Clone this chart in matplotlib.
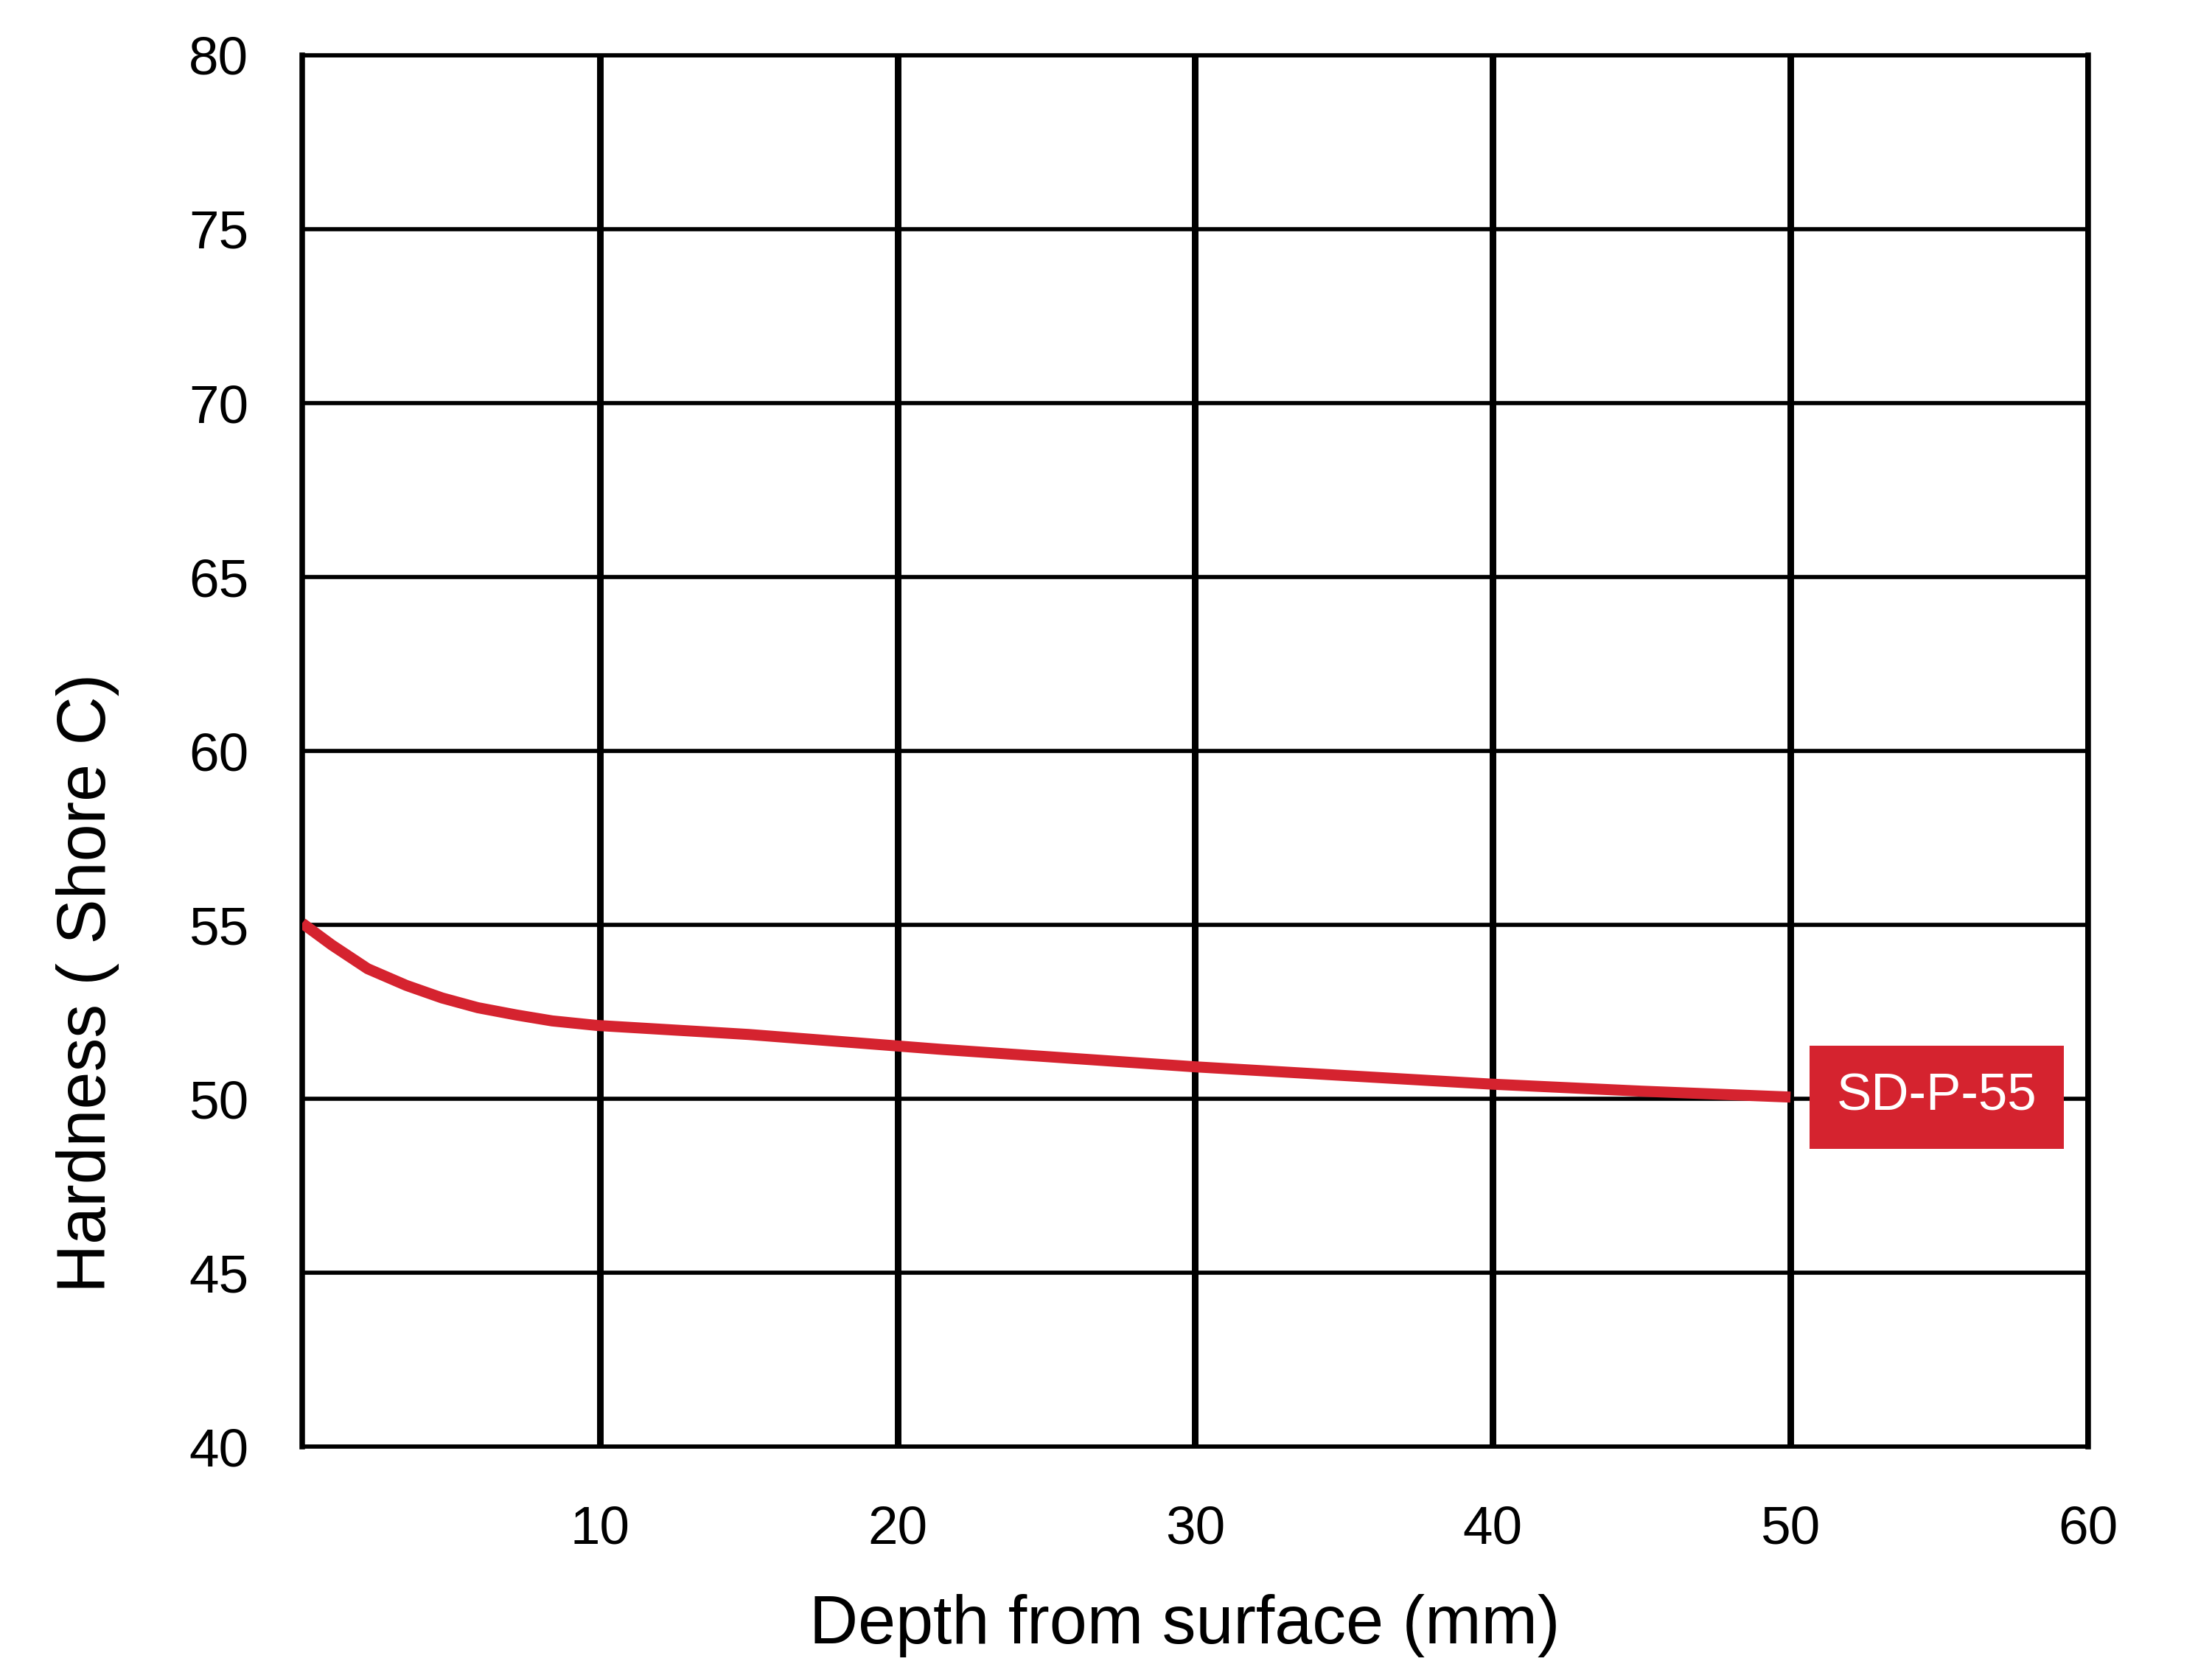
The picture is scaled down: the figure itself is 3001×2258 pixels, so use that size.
import matplotlib
matplotlib.use("Agg")
import matplotlib.pyplot as plt

plt.rcParams['font.family'] = ['Liberation Sans', 'DejaVu Sans']

# hardness profile
depth = [0, 1.0, 2.2, 3.5, 4.7, 5.9, 7.2, 8.4, 9.9, 15, 21.5, 30, 40, 45, 50]
hardness = [55.05, 54.42, 53.74, 53.26, 52.9, 52.62, 52.41, 52.24, 52.11, 51.85, 51.42, 50.92, 50.42, 50.22, 50.05]
series_name = "SD-P-55"

xticks = [10, 20, 30, 40, 50, 60]
yticks = [40, 45, 50, 55, 60, 65, 70, 75, 80]

red = '#D5232F'

fig = plt.figure(figsize=(3001 / 300, 2258 / 300), dpi=300)
ax = fig.add_axes([0.1366, 0.1306, 0.8074, 0.8362])

ax.set_xlim(0, 60)
ax.set_ylim(40, 80)
ax.set_xticks(xticks)
ax.set_yticks(yticks)

# grid: vertical lines are drawn heavier than horizontal ones
ax.grid(axis='x', color='black', linewidth=2.15)
ax.grid(axis='y', color='black', linewidth=1.35)
ax.set_axisbelow(True)

for side in ['left', 'right']:
    ax.spines[side].set_linewidth(1.8)
for side in ['top', 'bottom']:
    ax.spines[side].set_linewidth(1.35)

ax.tick_params(axis='both', length=0, labelsize=17.5)
ax.tick_params(axis='y', pad=17.5)
ax.tick_params(axis='x', pad=19)

ax.plot(depth, hardness, color=red, linewidth=3.6, solid_capstyle='butt',
        solid_joinstyle='round', zorder=3)

# series label box at the end of the curve
ax.annotate(series_name, xy=(depth[-1], hardness[-1]), xytext=(15, 0), textcoords='offset points',
            ha='left', va='center', color='white', fontsize=17,
            bbox=dict(boxstyle='square,pad=0.52', facecolor=red, edgecolor='none'), zorder=4)

ax.set_xlabel("Depth from surface (mm)", fontsize=22, va='center')
ax.xaxis.set_label_coords(0.494, -0.1288)
ax.set_ylabel("Hardness ( Shore C)", fontsize=22, va='center')
ax.yaxis.set_label_coords(-0.120, 0.3335)

plt.savefig("out.png", dpi=300)
